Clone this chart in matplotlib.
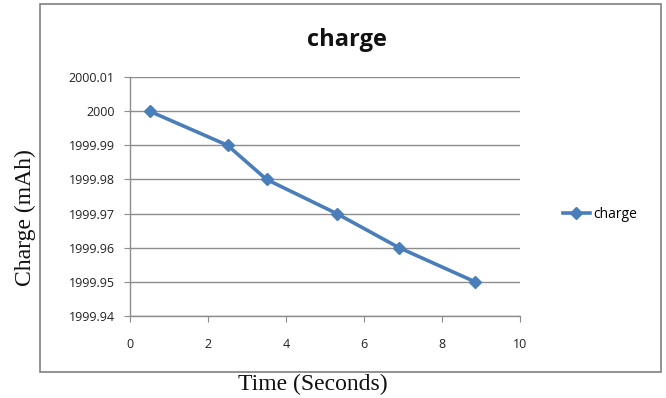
import matplotlib
matplotlib.use("Agg")
import matplotlib.pyplot as plt
from matplotlib.patches import Rectangle
from matplotlib.lines import Line2D

time_s = [0.5, 2.5, 3.5, 5.3, 6.9, 8.85]
charge = [2000.00, 1999.99, 1999.98, 1999.97, 1999.96, 1999.95]
x_ticks = [0, 2, 4, 6, 8, 10]
y_ticks = [1999.94, 1999.95, 1999.96, 1999.97, 1999.98, 1999.99, 2000.00, 2000.01]
y_tick_labels = ["1999.94", "1999.95", "1999.96", "1999.97", "1999.98", "1999.99", "2000", "2000.01"]

W, H = 666, 398
fig = plt.figure(figsize=(W / 100, H / 100), dpi=100)
fig.patch.set_facecolor("white")

# outer chart border
fig.add_artist(Rectangle((40 / W, 1 - 372 / H), (661 - 40) / W, (372 - 4) / H,
                         transform=fig.transFigure, fill=False,
                         edgecolor="#7f7f7f", linewidth=1.2))

ax = fig.add_axes([130 / W, 1 - 316 / H, (520 - 130) / W, (316 - 77) / H])
blue = "#4a7ebb"
ax.plot(time_s, charge, color=blue, linewidth=2.6, marker="D", markersize=6.5,
        markerfacecolor=blue, markeredgecolor=blue, label="charge")

ax.set_xlim(0, 10)
ax.set_ylim(1999.94, 2000.01)
ax.set_xticks(x_ticks)
ax.set_xticklabels([str(t) for t in x_ticks])
ax.set_yticks(y_ticks)
ax.set_yticklabels(y_tick_labels)
ax.yaxis.grid(True, color="#8c8c8c", linewidth=1.0)
ax.set_axisbelow(True)
for s in ["top", "right"]:
    ax.spines[s].set_visible(False)
for s in ["left", "bottom"]:
    ax.spines[s].set_color("#8c8c8c")
    ax.spines[s].set_linewidth(1.0)
ax.tick_params(axis="both", direction="out", length=4, color="#8c8c8c",
               labelsize=9, labelcolor="#222222")
ax.tick_params(axis="x", pad=12)
ax.tick_params(axis="y", pad=7)
for lbl in ax.get_xticklabels() + ax.get_yticklabels():
    lbl.set_family("Open Sans")

fig.text(347 / W, 1 - 40 / H, "charge", ha="center", va="center",
         fontsize=17, fontweight="bold", family="Open Sans", color="#111111")
fig.text(25 / W, 1 - 218 / H, "Charge (mAh)", ha="center", va="center",
         rotation=90, fontsize=17, family="Liberation Serif", color="#111111")
fig.text(313 / W, 1 - 384 / H, "Time (Seconds)", ha="center", va="center",
         fontsize=17, family="Liberation Serif", color="#111111")

handle = Line2D([], [], color=blue, linewidth=2.6, marker="D", markersize=6.5)
fig.legend([handle], ["charge"], loc="center left",
           bbox_to_anchor=(550 / W, 1 - 214 / H), frameon=False,
           handlelength=2.0, handletextpad=0.2,
           prop={"family": "Open Sans", "size": 10})

fig.savefig("out.png", dpi=100)
